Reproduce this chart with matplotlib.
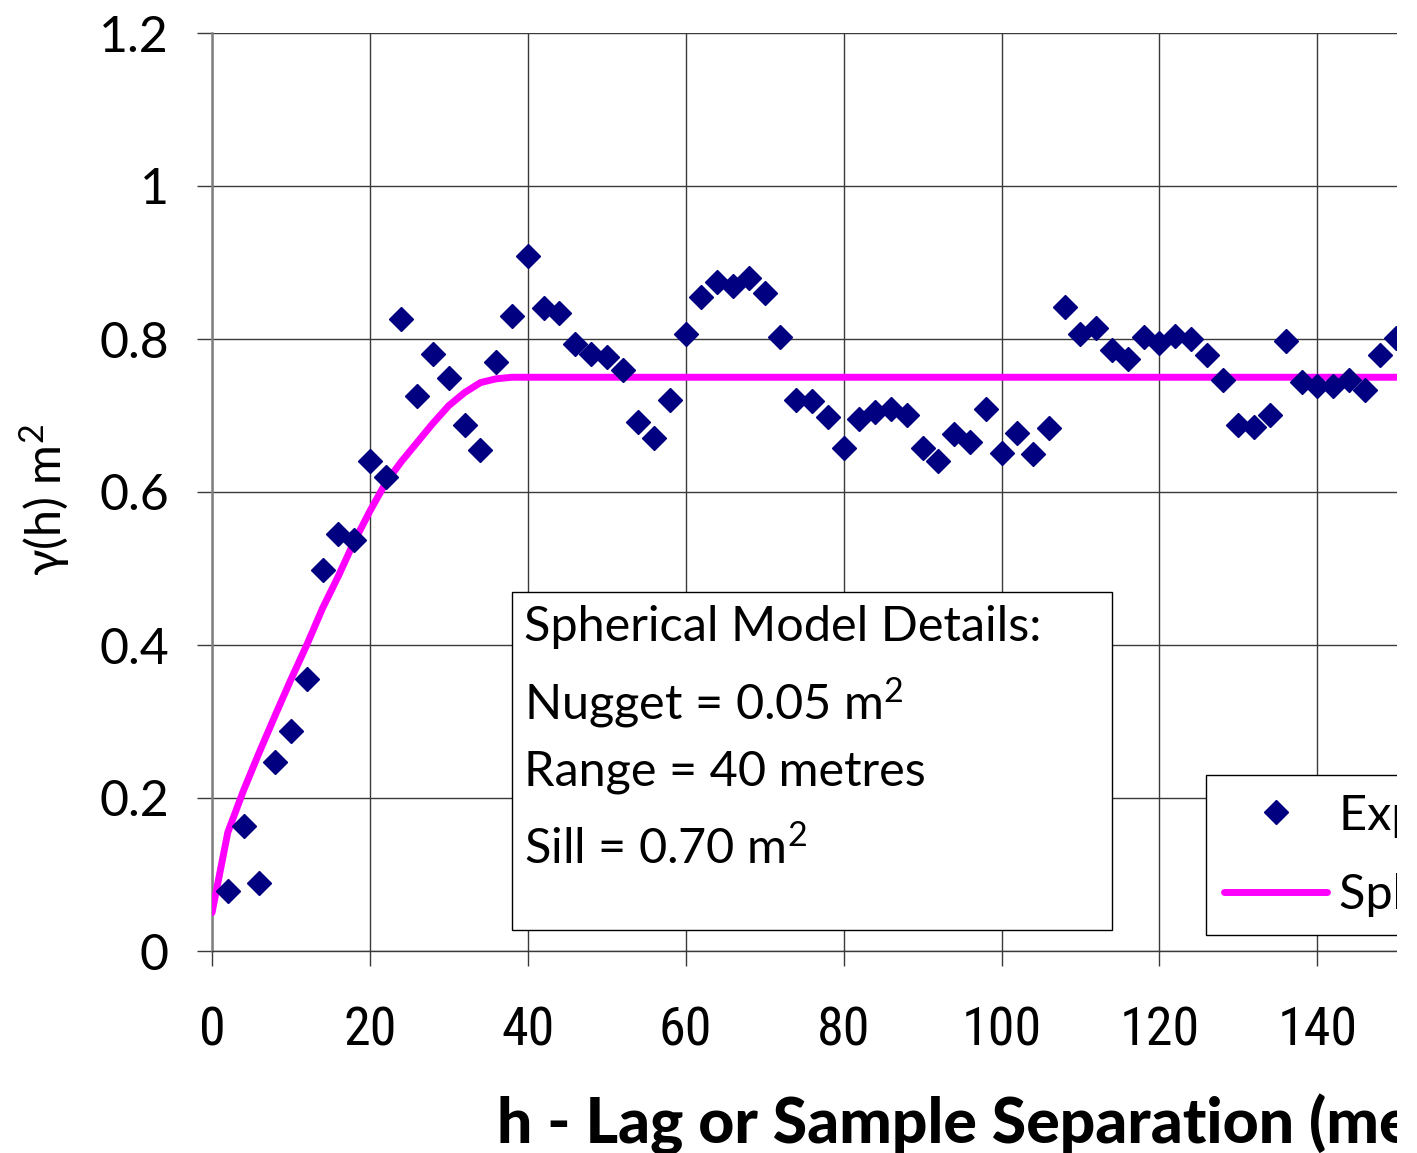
import matplotlib
matplotlib.use("Agg")
import matplotlib.pyplot as plt
from matplotlib import font_manager
from matplotlib.patches import Rectangle

# Experimental semivariogram, lag every 2 m
lag = list(range(2, 152, 2))
gamma = [0.079, 0.164, 0.089, 0.247, 0.288, 0.356, 0.498, 0.545, 0.537, 0.641,
         0.620, 0.826, 0.725, 0.781, 0.749, 0.688, 0.655, 0.770, 0.830, 0.908,
         0.841, 0.834, 0.793, 0.780, 0.777, 0.759, 0.692, 0.671, 0.720, 0.806,
         0.855, 0.875, 0.869, 0.880, 0.860, 0.803, 0.720, 0.719, 0.698, 0.657,
         0.695, 0.704, 0.709, 0.701, 0.657, 0.641, 0.676, 0.666, 0.709, 0.651,
         0.677, 0.650, 0.684, 0.842, 0.806, 0.815, 0.786, 0.774, 0.802, 0.795,
         0.804, 0.800, 0.779, 0.746, 0.688, 0.685, 0.701, 0.797, 0.744, 0.738,
         0.738, 0.746, 0.733, 0.779, 0.801]

# Fitted spherical model curve
model_h = list(range(0, 162, 2))
model_g = [0.050, 0.155, 0.210, 0.260, 0.308, 0.355, 0.400, 0.448, 0.490, 0.535,
           0.575, 0.612, 0.640, 0.665, 0.690, 0.713, 0.730, 0.743, 0.748, 0.750]
model_g += [0.750] * (len(model_h) - len(model_g))

x_ticks = [0, 20, 40, 60, 80, 100, 120, 140, 160]
y_ticks = [0, 0.2, 0.4, 0.6, 0.8, 1.0, 1.2]
y_tick_labels = ["0", "0.2", "0.4", "0.6", "0.8", "1", "1.2"]

details = ["Spherical Model Details:",
           "Nugget = 0.05 m$^2$",
           "Range = 40 metres",
           "Sill = 0.70 m$^2$"]


def pick_font(candidates):
    names = {f.name for f in font_manager.fontManager.ttflist}
    for c in candidates:
        if c in names:
            return c
    return "DejaVu Sans"


main_font = pick_font(["Lato", "Open Sans", "Noto Sans"])
narrow_font = pick_font(["Liberation Sans Narrow", "Roboto Condensed", main_font])

plt.rcParams['font.family'] = [main_font, 'DejaVu Sans']
plt.rcParams['mathtext.fontset'] = 'custom'
plt.rcParams['mathtext.rm'] = main_font
plt.rcParams['mathtext.it'] = main_font

W, H = 1417, 1153
fig = plt.figure(figsize=(W / 100, H / 100), dpi=100)

# axes runs past the right edge of the figure
x0, x_right = 212, 212 + 160 * 7.895
y_top, y_bot = 33, 951
ax = fig.add_axes([x0 / W, 1 - y_bot / H, (x_right - x0) / W, (y_bot - y_top) / H])

ax.set_xlim(0, 160)
ax.set_ylim(0, 1.2)
ax.set_xticks(x_ticks)
ax.set_yticks(y_ticks)
ax.set_yticklabels(y_tick_labels)
ax.grid(True, color='#3a3a3a', linewidth=1.0)
ax.set_axisbelow(True)
for s in ['top', 'right']:
    ax.spines[s].set_visible(False)
ax.spines['left'].set_color('#808080')
ax.spines['left'].set_linewidth(1.8)
ax.spines['bottom'].set_color('#3a3a3a')
ax.spines['bottom'].set_linewidth(1.0)
ax.tick_params(axis='y', direction='out', length=11, width=1, color='#3a3a3a',
               pad=20, labelsize=36)
ax.tick_params(axis='x', direction='out', length=11, width=1, color='#3a3a3a',
               pad=28, labelsize=39)
for lbl in ax.get_xticklabels():
    lbl.set_fontfamily(narrow_font)

ax.plot(lag, gamma, linestyle='none', marker='D', markersize=12.5,
        color='#000080', markeredgecolor='#000080', markeredgewidth=1,
        label='Experimental Semivariogram', zorder=4)
ax.plot(model_h, model_g, color='#ff00ff', linewidth=5,
        solid_capstyle='round', label='Spherical Model', zorder=3)

# model details box
ax.add_patch(Rectangle((38.0, 0.027), 76.0, 0.442, facecolor='white',
                       edgecolor='black', linewidth=1.0, zorder=5))
for txt, yv in zip(details, [0.4235, 0.3242, 0.2340, 0.1346]):
    ax.text(39.5, yv, txt, fontsize=35, va='center', ha='left', zorder=6)

leg = ax.legend(loc='upper left', bbox_to_anchor=(1206 / W, 1 - 775 / H),
                bbox_transform=fig.transFigure, borderaxespad=0, fontsize=35,
                frameon=True, fancybox=False, framealpha=1, edgecolor='black',
                borderpad=0.38, handlelength=2.1, handletextpad=0.25,
                labelspacing=0.72)
leg.get_frame().set_linewidth(1.0)
leg.set_zorder(7)

fig.text(45 / W, 1 - 500 / H, r"$\gamma$(h) m$^2$", rotation=90, fontsize=35,
         ha='center', va='center')
fig.text(497 / W, 1 - 1125 / H, "h - Lag or Sample Separation (metres)",
         fontsize=45, fontweight='black', ha='left', va='center')

# blank strip on the right edge
fig.patches.append(Rectangle((1397 / W, 0), 1, 1, transform=fig.transFigure,
                             facecolor='white', edgecolor='none', zorder=100))

fig.savefig('out.png', dpi=100)
